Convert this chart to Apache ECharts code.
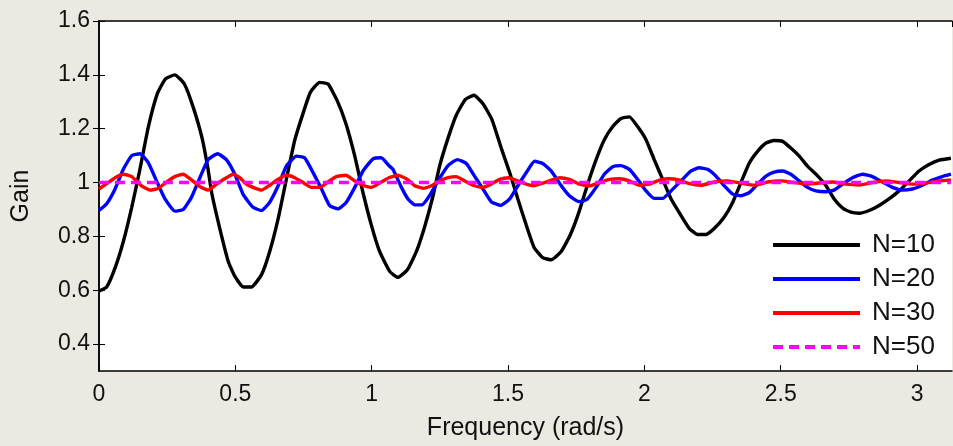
<!DOCTYPE html>
<html>
<head>
<meta charset="utf-8">
<script src="https://cdn.jsdelivr.net/npm/echarts@6/dist/echarts.min.js"></script>
<style>
html,body{margin:0;padding:0;background:#ece9e2;}
#chart{width:953px;height:446px;}
</style>
</head>
<body>
<div id="chart"></div>
<script>
const seriesNames = ['N=10', 'N=20', 'N=30', 'N=50'];
const yTicks = [0.4, 0.6, 0.8, 1, 1.2, 1.4, 1.6];

const n10X = [0.0,0.028,0.059,0.089,0.12,0.150,0.181,0.214,0.244,0.278,0.313,0.345,0.378,0.40,0.413,0.443,0.474,0.498,0.529,0.559,0.596,0.626,0.657,0.687,0.718,0.748,0.775,0.809,0.840,0.873,0.905,0.938,0.968,0.999,1.029,1.066,1.096,1.131,1.164,1.194,1.225,1.249,1.280,1.310,1.343,1.375,1.408,1.441,1.475,1.506,1.536,1.567,1.595,1.627,1.658,1.695,1.728,1.760,1.792,1.823,1.853,1.884,1.914,1.945,1.975,2.006,2.036,2.067,2.098,2.134,2.165,2.195,2.226,2.256,2.293,2.324,2.354,2.385,2.415,2.446,2.476,2.507,2.537,2.568,2.598,2.629,2.665,2.696,2.727,2.757,2.788,2.824,2.861,2.897,2.934,2.971,3.007,3.044,3.081,3.124];
const n10Y = [0.597,0.612,0.683,0.780,0.908,1.049,1.207,1.330,1.385,1.400,1.366,1.281,1.165,1.049,0.963,0.829,0.707,0.652,0.612,0.612,0.658,0.744,0.866,1.012,1.158,1.256,1.335,1.372,1.366,1.305,1.220,1.098,0.963,0.841,0.744,0.670,0.648,0.676,0.744,0.835,0.951,1.061,1.165,1.250,1.308,1.324,1.293,1.234,1.128,1.037,0.939,0.841,0.760,0.721,0.713,0.744,0.805,0.890,0.994,1.085,1.159,1.208,1.238,1.244,1.208,1.159,1.085,1.012,0.939,0.878,0.829,0.807,0.807,0.829,0.872,0.927,1.000,1.073,1.116,1.147,1.156,1.153,1.128,1.098,1.061,1.031,0.990,0.939,0.905,0.890,0.886,0.896,0.915,0.939,0.969,1.006,1.043,1.067,1.083,1.090];

const n20X = [0.0,0.028,0.059,0.089,0.12,0.150,0.181,0.211,0.242,0.278,0.309,0.339,0.370,0.40,0.435,0.467,0.498,0.529,0.565,0.596,0.626,0.657,0.687,0.724,0.754,0.785,0.816,0.846,0.877,0.907,0.938,0.968,1.005,1.035,1.063,1.078,1.109,1.133,1.158,1.184,1.212,1.243,1.280,1.314,1.347,1.377,1.408,1.438,1.473,1.506,1.536,1.567,1.597,1.627,1.658,1.691,1.725,1.760,1.789,1.823,1.853,1.884,1.914,1.945,1.975,2.006,2.036,2.067,2.098,2.140,2.171,2.201,2.232,2.262,2.293,2.324,2.354,2.385,2.415,2.446,2.476,2.507,2.537,2.568,2.598,2.629,2.665,2.696,2.727,2.763,2.800,2.836,2.873,2.910,2.946,2.983,3.019,3.056,3.092,3.124];
const n20Y = [0.896,0.921,0.976,1.049,1.100,1.107,1.073,1.006,0.939,0.894,0.900,0.945,1.018,1.085,1.107,1.085,1.031,0.955,0.908,0.896,0.927,0.988,1.061,1.098,1.092,1.037,0.976,0.914,0.902,0.927,0.982,1.043,1.088,1.092,1.063,1.049,0.982,0.939,0.917,0.917,0.951,1.006,1.063,1.085,1.071,1.024,0.976,0.929,0.915,0.939,0.988,1.037,1.079,1.071,1.043,0.994,0.951,0.929,0.937,0.982,1.031,1.059,1.063,1.049,1.012,0.969,0.941,0.941,0.969,1.012,1.043,1.055,1.049,1.024,0.988,0.957,0.951,0.963,0.994,1.024,1.039,1.043,1.031,1.006,0.982,0.969,0.966,0.972,0.994,1.018,1.031,1.022,1.002,0.982,0.972,0.976,0.990,1.009,1.022,1.031];

const n30X = [0.0,0.034,0.059,0.089,0.12,0.156,0.187,0.217,0.248,0.278,0.309,0.339,0.370,0.40,0.431,0.461,0.492,0.516,0.541,0.565,0.596,0.626,0.657,0.687,0.718,0.748,0.779,0.809,0.840,0.870,0.905,0.938,0.968,0.999,1.029,1.063,1.096,1.127,1.158,1.188,1.219,1.249,1.280,1.310,1.341,1.371,1.408,1.438,1.469,1.502,1.536,1.567,1.595,1.615,1.652,1.689,1.725,1.762,1.799,1.835,1.872,1.909,1.945,1.982,2.018,2.055,2.092,2.126,2.159,2.208,2.256,2.305,2.354,2.403,2.452,2.501,2.549,2.598,2.657,2.690,2.739,2.788,2.836,2.885,2.934,2.983,3.032,3.081,3.124];
const n30Y = [0.976,1.000,1.018,1.031,1.022,0.988,0.972,0.978,1.002,1.022,1.031,1.010,0.985,0.972,0.994,1.014,1.031,1.018,0.994,0.982,0.972,0.990,1.012,1.028,1.018,1.000,0.982,0.982,1.002,1.022,1.027,1.006,0.990,0.982,0.998,1.018,1.027,1.014,0.988,0.979,0.988,1.006,1.018,1.022,1.006,0.990,0.982,0.994,1.012,1.018,1.006,0.994,0.988,0.994,1.006,1.018,1.012,0.994,0.988,1.000,1.012,1.014,1.006,0.990,0.994,1.009,1.014,1.010,0.998,0.990,1.002,1.006,0.998,0.990,1.002,1.006,1.000,0.994,1.000,1.002,0.994,0.991,1.000,1.006,1.000,0.994,0.998,1.006,1.010];

const n50X = [0.0, 3.124];
const n50Y = [1.000, 1.000];

const pairs = (xs, ys) => xs.map((x, i) => [x, ys[i]]);

const FONT = '"Liberation Sans", Arial, sans-serif';
const TXT = '#111';
const X_MIN = 0, X_MAX = 3.128;
const Y_MIN = 0.3, Y_MAX = 1.6;

const chart = echarts.init(document.getElementById('chart'), null, {renderer: 'canvas'});

const mkLine = (name, xs, ys, color, dashed) => ({
  name: name,
  type: 'line',
  data: pairs(xs, ys),
  symbol: 'none',
  smooth: 0.15,
  silent: true,
  animation: false,
  lineStyle: {color: color, width: 3.4, type: dashed ? [10, 6] : 'solid', cap: 'butt'},
  itemStyle: {color: color},
  clip: true
});

chart.setOption({
  backgroundColor: '#ece9e2',
  animation: false,
  textStyle: {fontFamily: FONT},
  grid: {left: 99, right: 1, top: 21, bottom: 72, show: true, backgroundColor: '#ffffff', borderWidth: 0},
  legend: {
    orient: 'vertical',
    left: 766,
    top: 227,
    itemWidth: 87,
    itemHeight: 14,
    itemGap: 8,
    itemStyle: {opacity: 0},
    lineStyle: {width: 4},
    textStyle: {fontFamily: FONT, fontSize: 26, color: TXT, padding: [0, 0, 0, 7]},
    data: seriesNames
  },
  xAxis: [{
    type: 'value', min: X_MIN, max: X_MAX, interval: 0.5, position: 'bottom',
    name: 'Frequency (rad/s)', nameLocation: 'middle', nameGap: 45,
    nameTextStyle: {fontFamily: FONT, fontSize: 25, color: TXT},
    axisLine: {show: true, lineStyle: {color: '#000', width: 1.5}},
    axisTick: {show: true, inside: true, length: 6, lineStyle: {color: '#000', width: 1}},
    axisLabel: {fontFamily: FONT, fontSize: 23, color: TXT, margin: 12, showMaxLabel: false},
    splitLine: {show: false}
  }, {
    type: 'value', min: X_MIN, max: X_MAX, interval: 0.5, position: 'top',
    axisLine: {show: true, lineStyle: {color: '#000', width: 1.5}},
    axisTick: {show: true, inside: true, length: 6, lineStyle: {color: '#000', width: 1}},
    axisLabel: {show: false},
    splitLine: {show: false}
  }],
  yAxis: [{
    type: 'value', min: Y_MIN, max: Y_MAX, position: 'left',
    name: 'Gain', nameLocation: 'middle', nameGap: 65, nameRotate: 90,
    nameTextStyle: {fontFamily: FONT, fontSize: 25, color: TXT},
    axisLine: {show: true, lineStyle: {color: '#000', width: 1.5}},
    axisTick: {show: true, inside: true, length: 6, customValues: yTicks, lineStyle: {color: '#000', width: 1}},
    axisLabel: {fontFamily: FONT, fontSize: 23, color: TXT, margin: 9, customValues: yTicks},
    splitLine: {show: false}
  }, {
    type: 'value', min: Y_MIN, max: Y_MAX, position: 'right',
    axisLine: {show: true, lineStyle: {color: '#000', width: 1.5}},
    axisTick: {show: true, inside: true, length: 6, customValues: yTicks, lineStyle: {color: '#000', width: 1}},
    axisLabel: {show: false, customValues: yTicks},
    splitLine: {show: false}
  }],
  series: [
    mkLine(seriesNames[0], n10X, n10Y, '#000000', false),
    mkLine(seriesNames[1], n20X, n20Y, '#0000ff', false),
    mkLine(seriesNames[2], n30X, n30Y, '#ff0000', false),
    mkLine(seriesNames[3], n50X, n50Y, '#ff00ff', true)
  ]
});
</script>
</body>
</html>
